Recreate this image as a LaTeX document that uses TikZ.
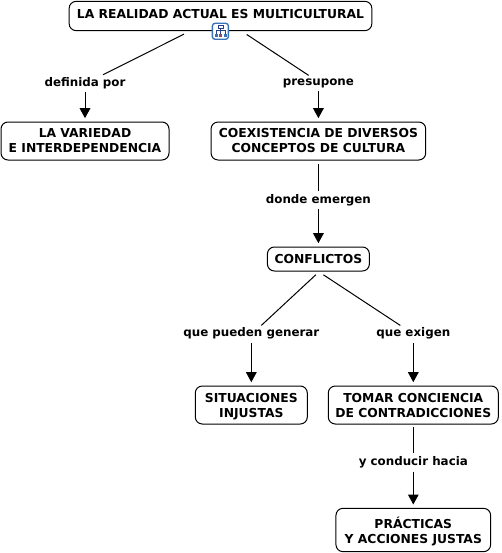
\documentclass[tikz,border=0pt]{standalone}
\usepackage{fontspec}
\setmainfont{DejaVu Sans}
\usetikzlibrary{arrows.meta}
\definecolor{iconblue}{HTML}{3A72B8}
\definecolor{icondark}{HTML}{27408B}
\definecolor{iconred}{HTML}{8A4A6A}
\tikzset{
  concept/.style={draw=black,line width=0.75pt,rounded corners=5.25pt,align=center,font=\fontsize{9.25pt}{11.25pt}\selectfont\bfseries,inner sep=0pt},
  drop/.style={text height=#1,text depth=2pt},
  linking/.style={font=\fontsize{8.9pt}{11.25pt}\selectfont\bfseries,inner sep=0pt,text height=9.2pt,text depth=4.3pt},
  link/.style={line width=0.75pt},
  flow/.style={-{Triangle[length=7.5pt,width=8pt]},line width=0.75pt,shorten >=2.5pt},
  iconbox/.style={draw=iconblue,line width=1pt,rounded corners=2pt,fill=white,minimum size=12pt,inner sep=0pt}
}
\begin{document}
\begin{tikzpicture}[x=0.75pt,y=-0.75pt]
\useasboundingbox (0,0) rectangle (501,553);
\node[concept,drop=5.45pt,minimum width=227pt,minimum height=22pt] (root) at (220.5,16) {LA REALIDAD ACTUAL ES MULTICULTURAL};
\node[concept,drop=19pt,minimum width=126pt,minimum height=28.5pt] (variedad) at (85,141) {LA VARIEDAD\\E INTERDEPENDENCIA};
\node[concept,drop=19pt,minimum width=161pt,minimum height=28.5pt] (coex) at (318.4,141) {COEXISTENCIA DE DIVERSOS\\CONCEPTOS DE CULTURA};
\node[concept,drop=8.45pt,minimum width=76.5pt,minimum height=18pt] (conflictos) at (318.4,259) {CONFLICTOS};
\node[concept,drop=20.6pt,minimum width=84pt,minimum height=28.5pt] (situaciones) at (251.3,405) {SITUACIONES\\INJUSTAS};
\node[concept,drop=20.6pt,minimum width=127.5pt,minimum height=28.5pt] (tomar) at (413.3,405) {TOMAR CONCIENCIA\\DE CONTRADICCIONES};
\node[concept,drop=22pt,minimum width=116pt,minimum height=32.5pt] (practicas) at (413.3,530) {PRÁCTICAS\\Y ACCIONES JUSTAS};
\node[linking] (definida) at (85,83) {definida por};
\node[linking] (presupone) at (318.4,82) {presupone};
\node[linking] (emergen) at (318.4,200) {donde emergen};
\node[linking] (generar) at (251.3,333.5) {que pueden generar};
\node[linking] (exigen) at (413.3,333.5) {que exigen};
\node[linking] (hacia) at (413.3,462.7) {y conducir hacia};
\draw[link] ([shift={(-36.5,3)}]root.south)--([shift={(18,1)}]definida.north);
\draw[link] ([shift={(26.2,3.3)}]root.south)--([shift={(-9.7,2.7)}]presupone.north);
\draw[link,shorten <=2.5pt] (coex)--(emergen);
\draw[link] ([shift={(-2.6,3.3)}]conflictos.south)--([shift={(10,1.2)}]generar.north);
\draw[link] ([shift={(5,3.3)}]conflictos.south)--([shift={(-13,1.2)}]exigen.north);
\draw[link,shorten <=2pt] (tomar)--(hacia);
\draw[flow] (definida)--(variedad);
\draw[flow] (presupone)--(coex);
\draw[flow] (emergen)--(conflictos);
\draw[flow] (generar)--(situaciones);
\draw[flow] (exigen)--(tomar);
\draw[flow] (hacia)--(practicas);
\node[iconbox] (icon) at (220.4,31.3) {};
\draw[icondark,line width=0.6pt] (218,25) rectangle (223,28);
\draw[icondark,line width=0.45pt] (220.5,28)--(220.5,33.5) (216,34)--(216,30.5)--(225,30.5)--(225,34);
\fill[iconblue] (214.5,33.5) rectangle (217.5,36.5);
\fill[iconred] (219,33.5) rectangle (222,36.5);
\fill[iconblue] (223.5,33.5) rectangle (226.5,36.5);
\end{tikzpicture}
\end{document}
